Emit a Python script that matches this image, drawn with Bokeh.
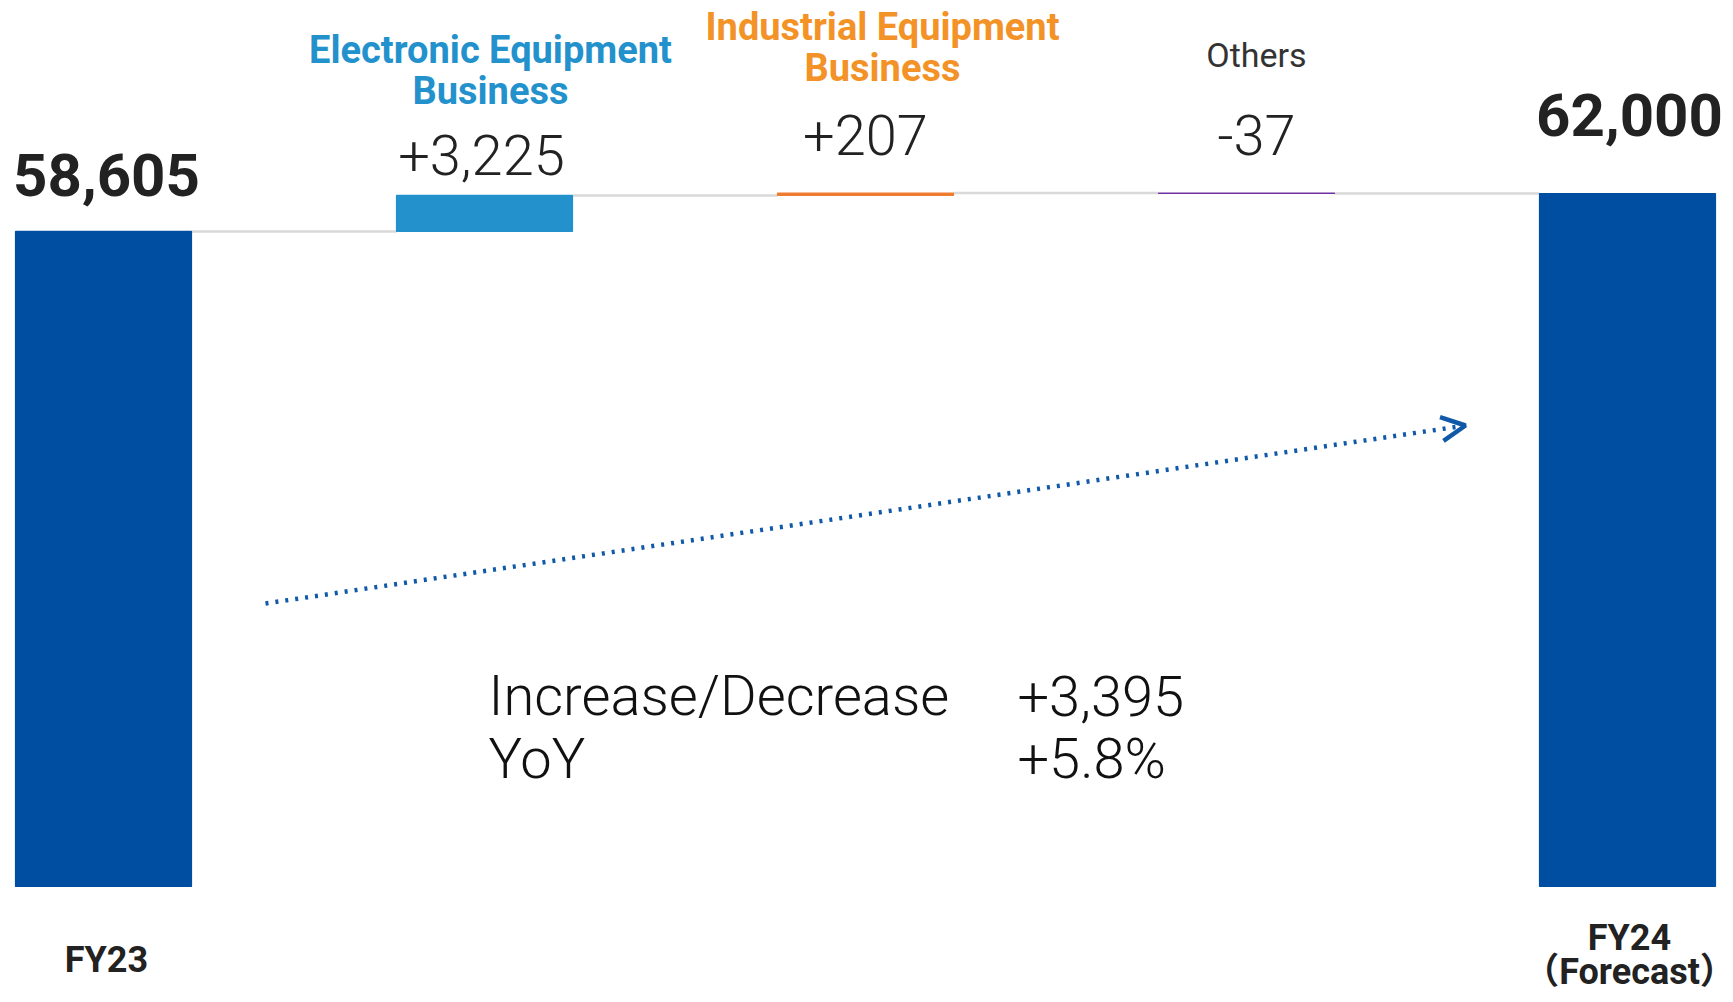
from bokeh.plotting import figure
from bokeh.models import Range1d, Arrow, OpenHead
from bokeh.core.properties import value
from bokeh.embed import file_html
from bokeh.resources import INLINE

# ---------------- data ----------------
stages = ["FY23", "Electronic Equipment\nBusiness", "Industrial Equipment\nBusiness",
          "Others", "FY24\n（Forecast）"]
start_total = 58605
deltas = [3225, 207, -37]
end_total = 62000

# ---------------- derived bar geometry (data units) ----------------
bottoms, tops = [0], [start_total]
level = start_total
levels = [start_total]
for d in deltas:
    bottoms.append(min(level, level + d))
    tops.append(max(level, level + d))
    level += d
    levels.append(level)
bottoms.append(0)
tops.append(end_total)
xs = list(range(len(stages)))

value_texts = [f"{start_total:,}"] + [f"{d:+,}".replace("+-", "-") for d in deltas] + [f"{end_total:,}"]
diff = end_total - start_total
pct = diff / start_total * 100

# ---------------- canvas / scales ----------------
W, H = 1733, 1002
SLOT = 381.0          # px between bar centres
X_FIRST = 103.0       # px of first bar centre
BASE_PY = 886.0       # px of value 0
PXY = end_total / (BASE_PY - 193.0)   # data units per pixel (vertical)
SHIFT = 0.37          # baseline correction (fraction of font size)

X0 = -X_FIRST / SLOT
X1 = (W - X_FIRST) / SLOT
Y0 = -(H - BASE_PY) * PXY
Y1 = BASE_PY * PXY

def xpx(px):
    return (px - X_FIRST) / SLOT

def ypx(py):
    return (BASE_PY - py) * PXY

BAR_W = 176 / SLOT

p = figure(width=W, height=H, x_range=Range1d(X0, X1), y_range=Range1d(Y0, Y1),
           output_backend="svg", toolbar_location=None, min_border=0,
           x_axis_type=None, y_axis_type=None)
p.grid.visible = False
p.outline_line_color = None
p.background_fill_color = "white"
p.border_fill_color = "white"

BLUE = "#004EA2"
LIGHT_BLUE = "#2391CC"
ORANGE = "#ED7D31"
ORANGE_TXT = "#F39226"
PURPLE = "#7030A0"
GREY = "#D9D9D9"
DARK = "#222222"
fills = [BLUE, LIGHT_BLUE, ORANGE, PURPLE, BLUE]

# connectors
cx0 = [i + BAR_W / 2 for i in xs[:-1]]
cx1 = [i + 1 - BAR_W / 2 for i in xs[:-1]]
p.segment(x0=cx0, y0=levels, x1=cx1, y1=levels, line_color=GREY, line_width=2.5)

# bars
p.vbar(x=xs, bottom=bottoms, top=tops, width=BAR_W, fill_color=fills,
       line_color=fills, line_width=1.2)

FONT = value("Roboto")
LIGHT = value("'Roboto Light', Roboto")

# totals
TS = 60
p.text(x=[xs[0] + 3 / SLOT, xs[-1] + 2 / SLOT],
       y=[tops[0] + (34 + SHIFT * TS) * PXY, tops[-1] + (56 + SHIFT * TS) * PXY],
       text=[value_texts[0], value_texts[-1]], text_font=FONT, text_font_style="bold",
       text_font_size=f"{TS}px", text_align="center", text_baseline="alphabetic",
       text_color=DARK)

# delta values
DS = 56
gaps = [20, 37, 37]
dxs = [-3, 0, 10]
p.text(x=[i + dx / SLOT for i, dx in zip(xs[1:4], dxs)],
       y=[tops[i] + (g + SHIFT * DS) * PXY for i, g in zip(xs[1:4], gaps)],
       text=value_texts[1:4], text_font=LIGHT, text_font_size=f"{DS}px",
       text_align="center", text_baseline="alphabetic", text_color=DARK)

# category labels on top
top_cfg = [  # (index, bottom-line baseline px, x offset px, color, bold, size)
    (1, 105, 6, LIGHT_BLUE, True, 38),
    (2, 82, 17, ORANGE_TXT, True, 38),
    (3, 67, 10, "#333333", False, 34),
]
for idx, base, dx, col, bold, size in top_cfg:
    lines = stages[idx].split("\n")
    n = len(lines)
    for j, ln in enumerate(lines):
        py = base - (n - 1 - j) * 41 - SHIFT * size
        p.text(x=[idx + dx / SLOT], y=[ypx(py)], text=[ln], text_font=FONT,
               text_font_style="bold" if bold else "normal",
               text_font_size=f"{size}px", text_align="center",
               text_baseline="alphabetic", text_color=col)

# category labels at the bottom
BS = 36
bottom_cfg = [(0, 973, 3), (4, 951, 2)]
for idx, base, dx in bottom_cfg:
    for j, ln in enumerate(stages[idx].split("\n")):
        p.text(x=[idx + dx / SLOT], y=[ypx(base + j * 34 - SHIFT * BS)], text=[ln],
               text_font=value("Roboto, 'Noto Sans CJK JP'"), text_font_style="bold",
               text_font_size=f"{BS}px", text_align="center", text_baseline="alphabetic",
               text_color=DARK)

# trend arrow
ARROW_C = "#1059A8"
p.add_layout(Arrow(x_start=xpx(265), y_start=ypx(603), x_end=xpx(1465), y_end=ypx(425),
                   line_color=ARROW_C, line_width=4.5, line_dash="3 7",
                   end=OpenHead(size=24, line_color=ARROW_C, line_width=4.5)))

# summary
SS = 56
p.text(x=[xpx(488), xpx(488)], y=[ypx(716 - SHIFT * SS), ypx(779 - SHIFT * SS)],
       text=["Increase/Decrease", "YoY"],
       text_font=LIGHT, text_font_size=f"{SS}px", text_align="left",
       text_baseline="alphabetic", text_color="#111111")
p.text(x=[xpx(1017), xpx(1017)], y=[ypx(716 - SHIFT * SS), ypx(779 - SHIFT * SS)],
       text=[f"{diff:+,}", f"{pct:+.1f}%"],
       text_font=LIGHT, text_font_size=f"{SS}px", text_align="left",
       text_baseline="alphabetic", text_color="#111111")

open("out.html", "w").write(file_html(p, INLINE, title="Waterfall"))
